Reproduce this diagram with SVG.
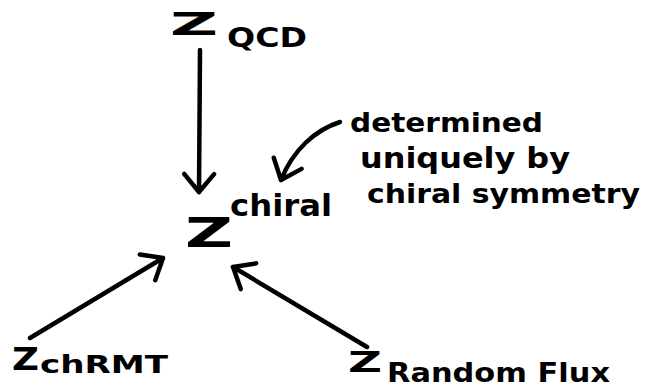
<svg xmlns="http://www.w3.org/2000/svg" width="656" height="391" viewBox="0 0 656 391">
<style>
.big{font-family:"DejaVu Sans",sans-serif;font-weight:bold;fill:#000}
.sub{font-family:"DejaVu Sans",sans-serif;font-weight:bold;fill:#000}
.note{font-family:"DejaVu Sans",sans-serif;font-weight:bold;fill:#000}
.edge{stroke:#000;stroke-width:4.5;fill:none;stroke-linecap:round;stroke-linejoin:round}
</style>
<defs>
<marker id="ah" markerUnits="userSpaceOnUse" markerWidth="40" markerHeight="40" refX="0" refY="0" viewBox="-25 -20 30 40" orient="auto" overflow="visible">
<path d="M -18 -15 L 0 0 L -18 15" fill="none" stroke="#000" stroke-width="4.5" stroke-linecap="round" stroke-linejoin="round"/>
</marker>
</defs>
<rect width="656" height="391" fill="#fff"/>
<g id="zqcd">
<text class="big" x="170" y="35" font-size="32" textLength="48" lengthAdjust="spacingAndGlyphs">Z</text>
<text class="sub" x="227" y="47" font-size="26" textLength="80" lengthAdjust="spacingAndGlyphs">QCD</text>
</g>
<g id="zchiral">
<text class="big" x="185" y="247" font-size="40" textLength="48" lengthAdjust="spacingAndGlyphs">Z</text>
<text class="sub" x="230" y="216" font-size="30" textLength="102" lengthAdjust="spacingAndGlyphs">chiral</text>
</g>
<g id="zchrmt">
<text class="big" x="12" y="370" font-size="32" textLength="27" lengthAdjust="spacingAndGlyphs">Z</text>
<text class="sub" x="40" y="373" font-size="25" textLength="128" lengthAdjust="spacingAndGlyphs">chRMT</text>
</g>
<g id="zrandomflux">
<text class="big" x="348" y="372" font-size="28" textLength="34" lengthAdjust="spacingAndGlyphs">Z</text>
<text class="sub" x="387" y="382" font-size="27" textLength="223" lengthAdjust="spacingAndGlyphs">Random Flux</text>
</g>
<g id="note">
<text class="note" x="350" y="132" font-size="27" textLength="193" lengthAdjust="spacingAndGlyphs">determined</text>
<text class="note" x="360" y="168" font-size="28" textLength="210" lengthAdjust="spacingAndGlyphs">uniquely by</text>
<text class="note" x="367" y="203" font-size="26" textLength="273" lengthAdjust="spacingAndGlyphs">chiral symmetry</text>
</g>
<g id="connectors">
<path class="edge" d="M 200 50 L 199 192" marker-end="url(#ah)"/>
<path class="edge" d="M 30 338 L 163 258" marker-end="url(#ah)"/>
<path class="edge" d="M 367 347 L 233 267" marker-end="url(#ah)"/>
<path class="edge" d="M 340 122 C 315 130 293 150 281 180" marker-end="url(#ah)"/>
</g>
</svg>
